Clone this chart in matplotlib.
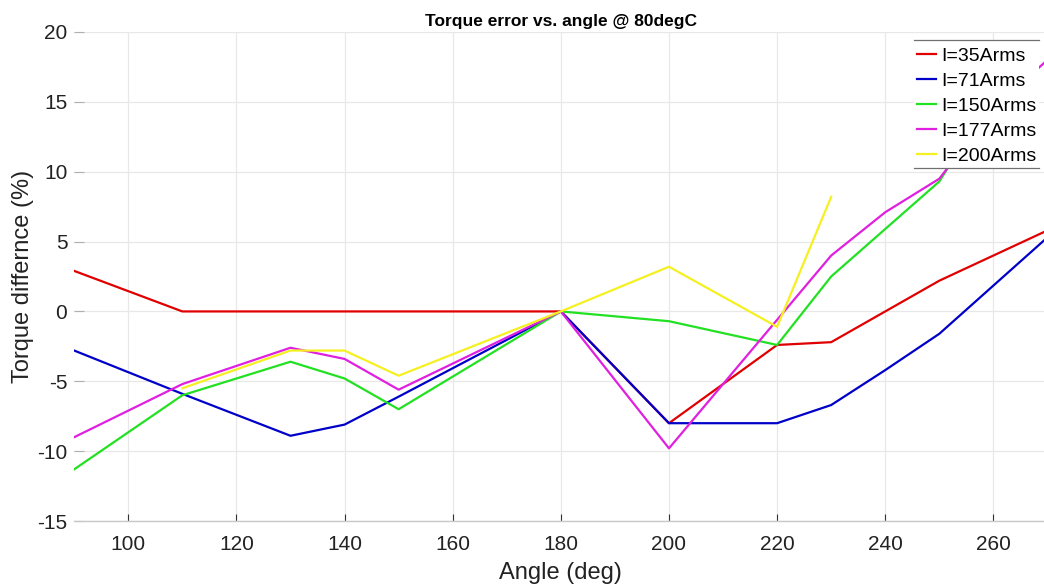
import numpy as np
import matplotlib.pyplot as plt
from matplotlib.lines import Line2D
from matplotlib.patches import Rectangle

plt.rcParams['font.family'] = ['Liberation Sans', 'DejaVu Sans']
plt.rcParams['axes.unicode_minus'] = False

# ── Dados ──────────────────────────────────────────────
angle = [90, 110, 130, 140, 150, 180, 200, 220, 230, 240, 250, 260, 270]
nan = np.nan
i35  = [2.9, 0.0, 0.0, 0.0, 0.0, 0.0, -8.0, -2.4, -2.2, nan, 2.2, nan, 5.8]
i71  = [-2.8, -5.9, -8.9, -8.1, -6.1, 0.0, -8.0, -8.0, -6.7, -4.2, -1.6, nan, 5.3]
i150 = [-11.3, -6.0, -3.6, -4.8, -7.0, 0.0, -0.7, -2.4, 2.5, 5.9, 9.3, 15.5, nan]
i177 = [-9.0, -5.2, -2.6, -3.4, -5.6, 0.0, -9.8, -0.6, 4.0, 7.1, 9.5, 14.5, 18.0]
i200 = [nan, -5.5, -2.8, -2.8, -4.6, 0.0, 3.2, -1.1, 8.2, nan, nan, nan, nan]

labels = ['I=35Arms', 'I=71Arms', 'I=150Arms', 'I=177Arms', 'I=200Arms']
colors = ['#e00000', '#0000c8', '#22e022', '#e020e0', '#f5f020']
series = [i35, i71, i150, i177, i200]

fig = plt.figure(figsize=(10.44, 5.85), dpi=100)
ax = fig.add_axes([0.0711, 0.1094, 0.9322, 0.8359])

x = np.array(angle, dtype=float)
for y, c, lab in zip(series, colors, labels):
    y = np.array(y, dtype=float)
    m = ~np.isnan(y)
    ax.plot(x[m], y[m], color=c, lw=1.6, label=lab)

ax.set_xlim(90, 270)
ax.set_ylim(-15, 20)
ax.set_xticks(np.arange(100, 261, 20))
ax.set_yticks(np.arange(-15, 21, 5))
ax.grid(True, color='#e8e8e8', lw=0.9)
ax.set_axisbelow(True)
for s in ax.spines.values():
    s.set_visible(False)
ax.spines['bottom'].set_visible(True)
ax.spines['bottom'].set_color('#c8c8c8')
ax.spines['bottom'].set_linewidth(1.0)
ax.tick_params(labelsize=15, labelcolor='#222222')
ax.tick_params(axis='x', direction='in', length=5, width=0.8, color='#333333', pad=10)
ax.tick_params(axis='y', direction='in', length=7, width=0.8, color='#b0b0b0', pad=5)

ax.set_xlabel('Angle (deg)', fontsize=17, labelpad=6, color='#222222')
ax.set_ylabel('Torque differnce (%)', fontsize=17, labelpad=2, color='#222222')
ax.set_title('Torque error vs. angle @ 80degC', fontsize=12.5, fontweight='bold', pad=4)

leg = ax.legend(loc='upper right', bbox_to_anchor=(0.9914, 0.975), fontsize=14,
                handlelength=1.0, handletextpad=0.25, labelspacing=0.38,
                borderpad=0.15, borderaxespad=0, fancybox=False, framealpha=1,
                edgecolor='none')

# MATLAB-style legend: white box, only top and bottom borders
fig.canvas.draw()
bb = leg.get_window_extent()
inv = fig.transFigure.inverted()
x0, y0 = inv.transform((bb.x0, bb.y0))
x1, y1 = inv.transform((bb.x1, bb.y1 + 4))
ax.add_patch(Rectangle((x0, y0), x1 - x0, y1 - y0, transform=fig.transFigure,
                       fc='white', ec='none', zorder=4.9, clip_on=False))
for yy in (y0, y1):
    ax.add_line(Line2D([x0, x1], [yy, yy], transform=fig.transFigure,
                       color='#707070', lw=0.9, zorder=6, clip_on=False))

plt.savefig('out.png', dpi=100)
